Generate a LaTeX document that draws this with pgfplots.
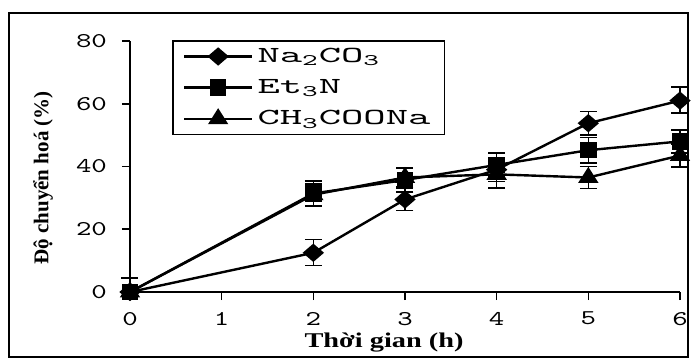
\documentclass[border=0pt]{standalone}
\usepackage{fontspec}
\setmainfont{Liberation Serif}
\newfontfamily\tickfont[FakeStretch=1.4]{lmmono10-regular.otf}
\newfontfamily\legfont[FakeStretch=1.85]{lmmono10-regular.otf}
\newfontfamily\labfont[FakeStretch=1.35]{Liberation Serif}
\usepackage{pgfplots}
\usepackage{pgfplotstable}
\pgfplotsset{compat=1.18}

\pgfplotstableread{
x y ep em
0 0 4.5 0
2 12.5 4.2 4.0
3 29.5 3.5 3.5
4 39.0 3.8 3.8
5 53.8 3.7 3.7
6 61.0 4.3 4.0
}\naco

\pgfplotstableread{
x y ep em
0 0 0 0
2 31.4 4.0 4.0
3 35.7 3.8 3.8
4 40.5 3.8 3.8
5 45.2 4.0 4.0
6 48.0 3.6 3.6
}\etn

\pgfplotstableread{
x y ep em
0 0 0 0
2 31.0 3.5 3.5
3 36.5 3.0 3.0
4 37.5 4.3 4.3
5 36.5 3.5 3.5
6 43.5 3.6 3.6
}\acna

\begin{document}
\begin{tikzpicture}
\useasboundingbox (-65pt,-34pt) rectangle (281.5pt,146pt);
\draw[line width=0.8pt] (-60.5pt,-32.5pt) rectangle (279pt,139.6pt);
\begin{axis}[
  at={(0pt,0pt)}, anchor=south west,
  scale only axis, width=275pt, height=125.5pt,
  xmin=0, xmax=6, ymin=0, ymax=80,
  axis x line*=bottom, axis y line*=left,
  axis line style={line width=0.8pt},
  xtick={0,1,...,6}, ytick={0,20,...,80},
  tick align=outside, major tick length=4pt,
  tick style={line width=0.8pt, black},
  /pgf/number format/assume math mode=true,
  tick label style={font=\tickfont\fontsize{10.5}{12}\selectfont},
  xticklabel style={yshift=-2.5pt},
  yticklabel style={xshift=-4pt},
  every axis x label/.style={at={(axis description cs:0.462,-0.2)}, anchor=center},
  every axis y label/.style={at={(axis description cs:-0.158,0.455)}, anchor=center, rotate=90},
  xlabel={\labfont\bfseries\fontsize{10.5}{12}\selectfont Thời gian (h)},
  ylabel={\bfseries\fontsize{10.5}{12}\selectfont Độ chuyển hoá (\%)},
  clip=false,
  legend style={at={(axis description cs:0.0764,1.004)}, anchor=north west,
    draw=black, line width=0.8pt, font=\legfont\fontsize{11.5}{13}\selectfont,
    inner xsep=5pt, inner ysep=1.5pt, row sep=3pt, cells={anchor=west}},
  legend image code/.code={\draw[mark repeat=2, mark phase=2] plot coordinates {(0cm,0cm) (0.6cm,0cm) (1.2cm,0cm)};},
  every axis plot/.append style={black, line width=1.2pt},
  error bars/y dir=both, error bars/y explicit,
  error bars/error mark options={rotate=90, mark size=4.25pt, line width=0.8pt, black},
  error bars/error bar style={line width=0.8pt, black},
]
\addplot[mark=diamond*, mark size=3.8pt, mark options={xscale=1.55, solid, fill=black}]
  table[x=x, y=y, y error plus=ep, y error minus=em] {\naco};
\addlegendentry{Na\textsubscript{2}CO\textsubscript{3}}
\addplot[mark=square*, mark size=3.5pt, mark options={solid, fill=black}]
  table[x=x, y=y, y error plus=ep, y error minus=em] {\etn};
\addlegendentry{Et\textsubscript{3}N}
\addplot[mark=triangle*, mark size=4.2pt, mark options={xscale=1.1, solid, fill=black}]
  table[x=x, y=y, y error plus=ep, y error minus=em] {\acna};
\addlegendentry{CH\textsubscript{3}COONa}
\end{axis}
\end{tikzpicture}
\end{document}
